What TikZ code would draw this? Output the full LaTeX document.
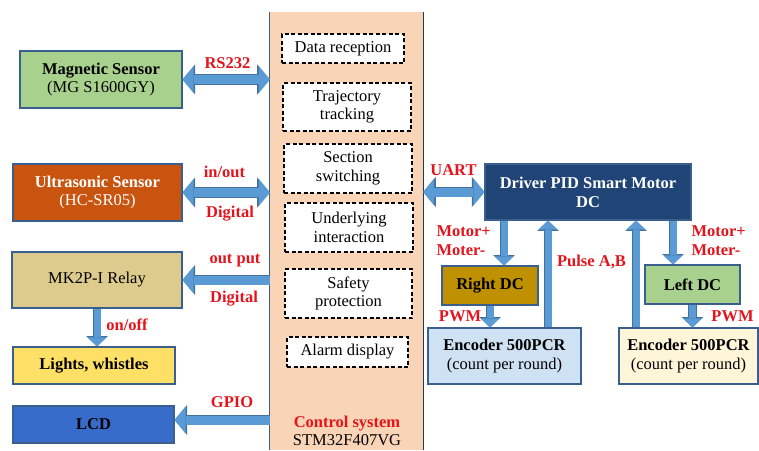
\documentclass[tikz,border=0pt]{standalone}
\usepackage{fontspec}
\setmainfont{Liberation Serif}
\usetikzlibrary{arrows.meta}
\definecolor{ctrlfill}{HTML}{FAD4B6}
\definecolor{boxedge}{HTML}{3A5F8F}
\definecolor{magfill}{HTML}{A9D18E}
\definecolor{ultrafill}{HTML}{C9540F}
\definecolor{relayfill}{HTML}{DDCB8D}
\definecolor{lightfill}{HTML}{FFE066}
\definecolor{lcdfill}{HTML}{386CCB}
\definecolor{drvfill}{HTML}{1F4475}
\definecolor{rdcfill}{HTML}{BF9000}
\definecolor{rencfill}{HTML}{CFE2F3}
\definecolor{lencfill}{HTML}{FFF5D9}
\definecolor{arrowfill}{HTML}{5B9BD5}
\definecolor{arrowedge}{HTML}{41719C}
\definecolor{sigred}{HTML}{E3141C}
\tikzset{box/.style={draw=boxedge, line width=1.1pt, align=center, inner sep=0pt},
   task/.style={draw=black, dash pattern=on 4pt off 2.5pt, line width=1.1pt, fill=white, align=center, inner sep=0pt},
   sig/.style={text=sigred, font=\fontsize{16.5}{19}\selectfont\bfseries},
   bigboth/.style={line width=9pt, draw=arrowfill,
      {Triangle[width=27pt,length=11pt,line width=0pt]}-{Triangle[width=27pt,length=11pt,line width=0pt]},
      preaction={draw=arrowedge, line width=10.6pt,
      {Triangle[width=30pt,length=12.6pt,line width=0pt]}-{Triangle[width=30pt,length=12.6pt,line width=0pt]}}},
   bigto/.style={line width=9pt, draw=arrowfill,
      -{Triangle[width=27pt,length=11pt,line width=0pt]},
      preaction={draw=arrowedge, line width=10.6pt, -{Triangle[width=30pt,length=12.6pt,line width=0pt]}}},
   smallto/.style={line width=7pt, draw=arrowfill,
      -{Triangle[width=19pt,length=9pt,line width=0pt]},
      preaction={draw=arrowedge, line width=8.4pt, -{Triangle[width=21.5pt,length=10.4pt,line width=0pt]}}}}

\begin{document}
\begin{tikzpicture}[x=1pt, y=-1pt, font=\fontsize{16.5}{18.5}\selectfont]
\useasboundingbox (0,0) rectangle (759,450);

% control system column
\node[fill=ctrlfill, minimum width=153pt, minimum height=438pt, inner sep=0pt] (ctrl) at (346.5,231) {};
\draw[boxedge, line width=1pt] (ctrl.north west) -- (ctrl.south west);
\draw[boxedge!60!black, line width=1pt] (ctrl.north east) -- (ctrl.south east);

\node[task, minimum width=122pt, minimum height=29pt] (recv) at (343,48.5) {Data reception};
\node[task, minimum width=128pt, minimum height=48pt] (track) at (347,107) {Trajectory\\tracking};
\node[task, minimum width=128pt, minimum height=49pt] (switch) at (348,168.5) {Section\\switching};
\node[task, minimum width=128pt, minimum height=49pt] (inter) at (349,227.5) {Underlying\\interaction};
\node[task, minimum width=127pt, minimum height=49pt] (safety) at (348.5,293.5) {Safety\\protection};
\node[task, minimum width=121pt, minimum height=30pt] (alarm) at (347.5,352) {Alarm display};
\node[align=center] (ctrllab) at (347,431) {\textcolor{sigred}{\bfseries Control system}\\STM32F407VG};

% left side
\node[box, fill=magfill, minimum width=162pt, minimum height=57pt] (mag) at (101,79.5) {\textbf{Magnetic Sensor}\\(MG S1600GY)};
\node[box, fill=ultrafill, text=white, minimum width=169pt, minimum height=57pt] (ultra) at (97.5,192.5) {\textbf{Ultrasonic Sensor}\\(HC-SR05)};
\node[box, fill=relayfill, minimum width=170pt, minimum height=56pt] (relay) at (97,280) {MK2P-I Relay};
\node[box, fill=lightfill, minimum width=162pt, minimum height=37pt] (lights) at (94,365.5) {\textbf{Lights, whistles}};
\node[box, fill=lcdfill, minimum width=161pt, minimum height=37pt] (lcd) at (93.5,424.5) {\textbf{LCD}};

\draw[bigboth] (mag.east) -- (ctrl.west |- mag.east);
\draw[bigboth] (ultra.east) -- (ctrl.west |- ultra.east);
\draw[bigto] (ctrl.west |- relay.east) -- (relay.east);
\draw[smallto] (relay.south) -- (relay.south |- lights.north);
\draw[bigto] ([yshift=4.5pt]ctrl.west |- lcd.east) -- ([yshift=4.5pt]lcd.east);

\node[sig] (lrs) at (227.5,63) {RS232};
\node[sig] (linout) at (224.5,171.5) {in/out};
\node[sig] (ldig1) at (230,214) {Digital};
\node[sig] (lout) at (235,261) {out put};
\node[sig] (ldig2) at (234,299) {Digital};
\node[sig] (lonoff) at (127,325) {on/off};
\node[sig] (lgpio) at (232,402) {GPIO};

% right side
\node[box, fill=drvfill, text=white, font=\fontsize{16.5}{19}\selectfont\bfseries, minimum width=206pt, minimum height=56pt] (driver) at (588,192) {Driver PID Smart Motor\\DC};
\node[box, fill=rdcfill, minimum width=96pt, minimum height=39pt] (rdc) at (490,285.5) {\textbf{Right DC}};
\node[box, fill=magfill, minimum width=95pt, minimum height=39pt] (ldc) at (692.5,284.5) {\textbf{Left DC}};
\node[box, fill=rencfill, minimum width=153pt, minimum height=56pt] (renc) at (504.5,356) {\textbf{Encoder 500PCR}\\(count per round)};
\node[box, fill=lencfill, minimum width=139pt, minimum height=56pt] (lenc) at (688.5,356) {\textbf{Encoder 500PCR}\\(count per round)};

\draw[bigboth] (ctrl.east |- driver.west) -- (driver.west);
\draw[smallto] ([xshift=14pt]rdc.north |- driver.south) -- ([xshift=14pt]rdc.north);
\draw[smallto] ([xshift=43.5pt]renc.north) -- ([xshift=43.5pt]renc.north |- driver.south);
\draw[smallto] ([xshift=-52.5pt]lenc.north) -- ([xshift=-52.5pt]lenc.north |- driver.south);
\draw[smallto] ([xshift=-19.5pt]ldc.north |- driver.south) -- ([xshift=-19.5pt]ldc.north);
\draw[smallto] (rdc.south) -- (rdc.south |- renc.north);
\draw[smallto] (ldc.south) -- (ldc.south |- lenc.north);

\node[sig] (luart) at (453.5,170) {UART};
\node[sig, align=left, anchor=west] (lmot1) at (433,240.5) {Motor+\\Moter-};
\node[sig, align=left, anchor=west] (lmot2) at (688,240.5) {Motor+\\Moter-};
\node[sig] (lpulse) at (591.5,262) {Pulse A,B};
\node[sig] (lpwm1) at (460,316) {PWM};
\node[sig] (lpwm2) at (732.5,316) {PWM};
\end{tikzpicture}
\end{document}
